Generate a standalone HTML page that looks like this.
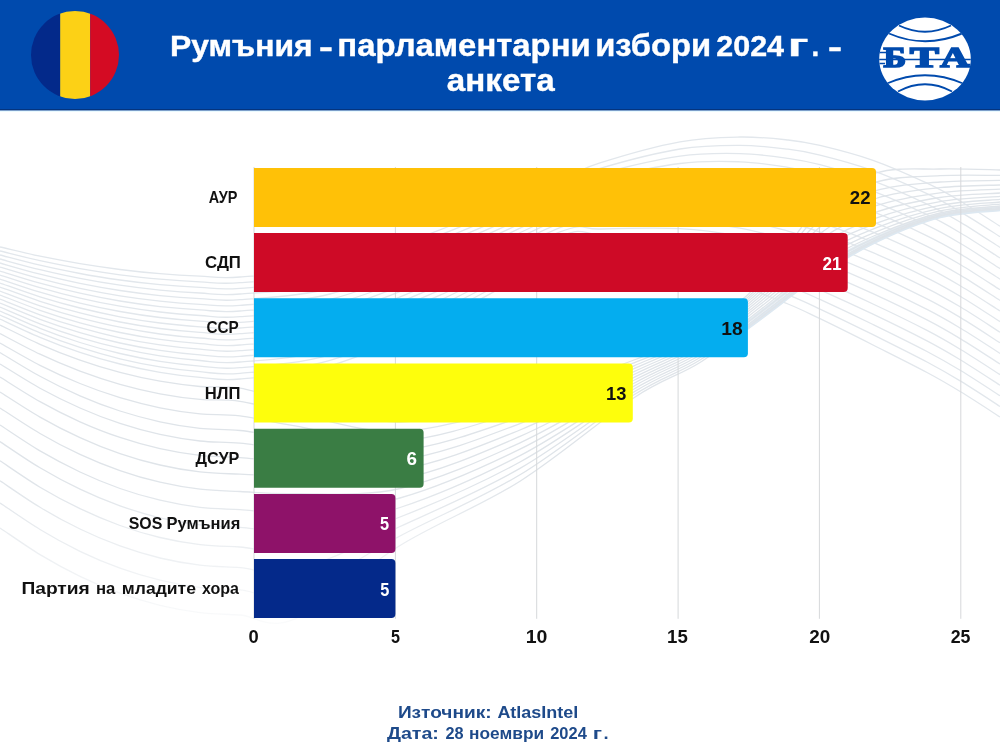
<!DOCTYPE html>
<html lang="bg"><head><meta charset="utf-8"><title>Румъния - парламентарни избори 2024 г. - анкета</title>
<style>html,body{margin:0;padding:0;background:#fff}body{width:1000px;height:750px;overflow:hidden}svg{display:block}</style></head>
<body>
<svg width="1000" height="750" viewBox="0 0 1000 750">
<defs>
<linearGradient id="fadeL" x1="0" x2="1" y1="0" y2="0"><stop offset="0" stop-color="#fff" stop-opacity="0"/><stop offset="0.2" stop-color="#fff" stop-opacity="1"/><stop offset="1" stop-color="#fff" stop-opacity="1"/></linearGradient>
<mask id="mA" maskUnits="userSpaceOnUse" x="540" y="110" width="460" height="500"><rect x="540" y="110" width="460" height="500" fill="url(#fadeL)"/></mask>
<linearGradient id="fadeB" x1="0" x2="0" y1="0" y2="1"><stop offset="0" stop-color="#fff" stop-opacity="1"/><stop offset="0.68" stop-color="#fff" stop-opacity="1"/><stop offset="1" stop-color="#fff" stop-opacity="0"/></linearGradient>
<mask id="mL" maskUnits="userSpaceOnUse" x="0" y="110" width="1000" height="540"><rect x="0" y="110" width="1000" height="540" fill="url(#fadeB)"/></mask>
<clipPath id="bandc"><rect x="745" y="110" width="255" height="300"/></clipPath>
<clipPath id="flag"><circle cx="75" cy="55" r="44"/></clipPath>
<clipPath id="bta"><ellipse cx="925" cy="59" rx="45.8" ry="41.4"/></clipPath>
</defs>
<rect width="1000" height="750" fill="#fff"/>
<g fill="none" stroke="#e2e7ec" stroke-width="1.3" mask="url(#mL)">
<path d="M0.0 247.0C6.7 248.5 26.7 253.4 40.0 256.2C53.3 258.9 66.7 261.4 80.0 263.7C93.3 265.9 106.7 267.8 120.0 269.5C133.3 271.2 146.7 272.6 160.0 273.7C173.3 274.8 186.7 275.6 200.0 276.2C213.3 276.7 218.3 278.6 240.0 277.0C261.7 275.4 296.7 274.3 330.0 266.4C363.3 258.5 401.7 244.3 440.0 229.8C478.3 215.4 533.3 190.9 560.0 179.8C586.7 168.6 580.0 169.2 600.0 162.9C620.0 156.5 656.7 146.1 680.0 141.8C703.3 137.4 722.0 137.3 740.0 137.0C758.0 136.7 774.7 138.6 788.0 140.0C801.3 141.4 805.8 142.1 820.0 145.4C834.2 148.8 855.2 154.1 873.0 160.3C890.8 166.6 912.3 176.3 927.0 183.2C941.7 190.0 948.8 194.3 961.0 201.5C973.2 208.6 993.5 222.1 1000.0 226.2"/>
<path d="M0.0 251.0C6.7 252.6 26.7 257.7 40.0 260.7C53.3 263.6 66.7 266.2 80.0 268.6C93.3 270.9 106.7 273.0 120.0 274.8C133.3 276.5 146.7 278.0 160.0 279.1C173.3 280.3 186.7 281.2 200.0 281.8C213.3 282.4 218.3 284.3 240.0 282.7C261.7 281.0 296.7 279.9 330.0 271.9C363.3 264.0 401.7 249.5 440.0 234.9C478.3 220.2 533.3 195.2 560.0 184.1C586.7 173.0 580.0 174.2 600.0 168.4C620.0 162.5 656.7 152.8 680.0 149.0C703.3 145.1 722.0 145.3 740.0 145.3C758.0 145.3 774.7 147.5 788.0 149.2C801.3 150.8 805.8 151.5 820.0 155.1C834.2 158.6 855.2 164.2 873.0 170.6C890.8 177.0 912.3 186.8 927.0 193.7C941.7 200.6 948.8 204.9 961.0 212.1C973.2 219.2 993.5 232.7 1000.0 236.8"/>
<path d="M0.0 255.0C6.7 256.7 26.7 262.1 40.0 265.2C53.3 268.3 66.7 271.0 80.0 273.5C93.3 276.0 106.7 278.1 120.0 280.0C133.3 281.9 146.7 283.4 160.0 284.6C173.3 285.9 186.7 286.8 200.0 287.4C213.3 288.0 218.3 290.0 240.0 288.3C261.7 286.7 296.7 285.5 330.0 277.4C363.3 269.4 401.7 254.7 440.0 239.9C478.3 225.1 533.3 199.5 560.0 188.5C586.7 177.5 580.0 179.3 600.0 173.9C620.0 168.5 656.7 159.6 680.0 156.2C703.3 152.8 722.0 153.2 740.0 153.6C758.0 153.9 774.7 156.4 788.0 158.3C801.3 160.1 805.8 160.9 820.0 164.7C834.2 168.5 855.2 174.3 873.0 180.9C890.8 187.4 912.3 197.2 927.0 204.2C941.7 211.2 948.8 215.4 961.0 222.6C973.2 229.8 993.5 243.3 1000.0 247.4"/>
<path d="M0.0 259.0C6.7 260.8 26.7 266.5 40.0 269.7C53.3 272.9 66.7 275.9 80.0 278.4C93.3 281.0 106.7 283.3 120.0 285.2C133.3 287.2 146.7 288.8 160.0 290.1C173.3 291.4 186.7 292.4 200.0 293.0C213.3 293.7 218.3 295.7 240.0 294.0C261.7 292.3 296.7 291.1 330.0 283.0C363.3 274.8 401.7 259.9 440.0 244.9C478.3 229.9 533.3 203.7 560.0 192.8C586.7 181.9 580.0 184.3 600.0 179.4C620.0 174.5 656.7 166.4 680.0 163.5C703.3 160.5 722.0 161.2 740.0 161.8C758.0 162.5 774.7 165.3 788.0 167.4C801.3 169.4 805.8 170.4 820.0 174.3C834.2 178.3 855.2 184.4 873.0 191.1C890.8 197.9 912.3 207.7 927.0 214.7C941.7 221.7 948.8 226.0 961.0 233.2C973.2 240.4 993.5 253.9 1000.0 258.0"/>
<path d="M0.0 263.0C6.7 264.9 26.7 270.8 40.0 274.2C53.3 277.6 66.7 280.7 80.0 283.4C93.3 286.1 106.7 288.5 120.0 290.5C133.3 292.5 146.7 294.2 160.0 295.6C173.3 297.0 186.7 298.0 200.0 298.6C213.3 299.3 218.3 301.4 240.0 299.7C261.7 298.0 296.7 296.8 330.0 288.5C363.3 280.2 401.7 265.2 440.0 249.9C478.3 234.7 533.3 208.0 560.0 197.2C586.7 186.3 580.0 189.3 600.0 184.9C620.0 180.5 656.7 173.2 680.0 170.7C703.3 168.2 722.0 169.1 740.0 170.1C758.0 171.1 774.7 174.2 788.0 176.5C801.3 178.8 805.8 179.8 820.0 183.9C834.2 188.1 855.2 194.5 873.0 201.4C890.8 208.3 912.3 218.2 927.0 225.2C941.7 232.3 948.8 236.6 961.0 243.8C973.2 251.0 993.5 264.5 1000.0 268.6"/>
<path d="M0.0 267.0C6.7 269.0 26.7 275.2 40.0 278.7C53.3 282.3 66.7 285.5 80.0 288.3C93.3 291.1 106.7 293.6 120.0 295.8C133.3 297.9 146.7 299.7 160.0 301.1C173.3 302.5 186.7 303.6 200.0 304.3C213.3 305.0 218.3 307.0 240.0 305.3C261.7 303.6 296.7 302.4 330.0 294.0C363.3 285.6 401.7 270.4 440.0 255.0C478.3 239.6 533.3 212.3 560.0 201.5C586.7 190.7 580.0 194.3 600.0 190.4C620.0 186.5 656.7 179.9 680.0 177.9C703.3 175.9 722.0 177.1 740.0 178.4C758.0 179.7 774.7 183.1 788.0 185.6C801.3 188.1 805.8 189.2 820.0 193.6C834.2 197.9 855.2 204.6 873.0 211.6C890.8 218.7 912.3 228.6 927.0 235.8C941.7 242.9 948.8 247.2 961.0 254.4C973.2 261.6 993.5 275.1 1000.0 279.2"/>
<path d="M0.0 271.0C6.7 273.0 26.7 279.5 40.0 283.2C53.3 286.9 66.7 290.3 80.0 293.2C93.3 296.2 106.7 298.8 120.0 301.0C133.3 303.2 146.7 305.1 160.0 306.6C173.3 308.0 186.7 309.1 200.0 309.9C213.3 310.6 218.3 312.7 240.0 311.0C261.7 309.3 296.7 308.0 330.0 299.5C363.3 291.0 401.7 275.6 440.0 260.0C478.3 244.4 533.3 216.5 560.0 205.8C586.7 195.2 580.0 199.4 600.0 195.9C620.0 192.5 656.7 186.7 680.0 185.2C703.3 183.6 722.0 185.1 740.0 186.7C758.0 188.3 774.7 191.9 788.0 194.7C801.3 197.4 805.8 198.7 820.0 203.2C834.2 207.7 855.2 214.7 873.0 221.9C890.8 229.1 912.3 239.1 927.0 246.3C941.7 253.5 948.8 257.7 961.0 265.0C973.2 272.2 993.5 285.7 1000.0 289.8"/>
<path d="M0.0 275.0C6.7 277.1 26.7 283.9 40.0 287.7C53.3 291.6 66.7 295.1 80.0 298.1C93.3 301.2 106.7 303.9 120.0 306.2C133.3 308.6 146.7 310.5 160.0 312.0C173.3 313.6 186.7 314.7 200.0 315.5C213.3 316.3 218.3 318.4 240.0 316.7C261.7 314.9 296.7 313.7 330.0 305.1C363.3 296.5 401.7 280.8 440.0 265.0C478.3 249.2 533.3 220.8 560.0 210.2C586.7 199.6 580.0 204.4 600.0 201.4C620.0 198.5 656.7 193.5 680.0 192.4C703.3 191.3 722.0 193.0 740.0 194.9C758.0 196.8 774.7 200.8 788.0 203.8C801.3 206.8 805.8 208.1 820.0 212.8C834.2 217.5 855.2 224.8 873.0 232.2C890.8 239.5 912.3 249.6 927.0 256.8C941.7 264.0 948.8 268.3 961.0 275.6C973.2 282.8 993.5 296.3 1000.0 300.4"/>
<path d="M0.0 279.0C6.7 281.2 26.7 288.2 40.0 292.2C53.3 296.3 66.7 299.9 80.0 303.1C93.3 306.3 106.7 309.1 120.0 311.5C133.3 313.9 146.7 315.9 160.0 317.5C173.3 319.1 186.7 320.3 200.0 321.1C213.3 321.9 218.3 324.1 240.0 322.3C261.7 320.6 296.7 319.3 330.0 310.6C363.3 301.9 401.7 286.1 440.0 270.1C478.3 254.0 533.3 225.1 560.0 214.5C586.7 204.0 580.0 209.4 600.0 206.9C620.0 204.4 656.7 200.3 680.0 199.6C703.3 199.0 722.0 201.0 740.0 203.2C758.0 205.4 774.7 209.7 788.0 212.9C801.3 216.1 805.8 217.5 820.0 222.4C834.2 227.4 855.2 234.9 873.0 242.4C890.8 249.9 912.3 260.0 927.0 267.3C941.7 274.6 948.8 278.9 961.0 286.2C973.2 293.4 993.5 306.9 1000.0 311.0"/>
<path d="M0.0 283.0C6.7 285.3 26.7 292.6 40.0 296.8C53.3 300.9 66.7 304.7 80.0 308.0C93.3 311.3 106.7 314.2 120.0 316.8C133.3 319.2 146.7 321.3 160.0 323.0C173.3 324.7 186.7 325.9 200.0 326.8C213.3 327.6 218.3 329.8 240.0 328.0C261.7 326.2 296.7 324.9 330.0 316.1C363.3 307.3 401.7 291.3 440.0 275.1C478.3 258.9 533.3 229.3 560.0 218.9C586.7 208.4 580.0 214.4 600.0 212.4C620.0 210.4 656.7 207.0 680.0 206.9C703.3 206.7 722.0 209.0 740.0 211.5C758.0 214.0 774.7 218.6 788.0 222.0C801.3 225.4 805.8 227.0 820.0 232.1C834.2 237.2 855.2 245.0 873.0 252.7C890.8 260.3 912.3 270.5 927.0 277.8C941.7 285.2 948.8 289.4 961.0 296.7C973.2 304.0 993.5 317.5 1000.0 321.6"/>
<path d="M0.0 287.0C6.7 289.4 26.7 296.9 40.0 301.3C53.3 305.6 66.7 309.5 80.0 312.9C93.3 316.4 106.7 319.4 120.0 322.0C133.3 324.6 146.7 326.8 160.0 328.5C173.3 330.2 186.7 331.5 200.0 332.4C213.3 333.2 218.3 335.5 240.0 333.7C261.7 331.9 296.7 330.6 330.0 321.6C363.3 312.7 401.7 296.5 440.0 280.1C478.3 263.7 533.3 233.6 560.0 223.2C586.7 212.9 580.0 219.5 600.0 217.9C620.0 216.4 656.7 213.8 680.0 214.1C703.3 214.4 722.0 216.9 740.0 219.8C758.0 222.6 774.7 227.5 788.0 231.1C801.3 234.8 805.8 236.4 820.0 241.7C834.2 247.0 855.2 255.2 873.0 262.9C890.8 270.7 912.3 281.0 927.0 288.3C941.7 295.7 948.8 300.0 961.0 307.3C973.2 314.6 993.5 328.1 1000.0 332.2"/>
<path d="M0.0 291.0C6.7 293.5 26.7 301.3 40.0 305.8C53.3 310.2 66.7 314.3 80.0 317.9C93.3 321.4 106.7 324.6 120.0 327.2C133.3 329.9 146.7 332.2 160.0 334.0C173.3 335.8 186.7 337.1 200.0 338.0C213.3 338.9 218.3 341.1 240.0 339.3C261.7 337.5 296.7 336.2 330.0 327.2C363.3 318.1 401.7 301.7 440.0 285.1C478.3 268.5 533.3 237.9 560.0 227.6C586.7 217.3 580.0 224.5 600.0 223.5C620.0 222.4 656.7 220.6 680.0 221.3C703.3 222.1 722.0 224.9 740.0 228.1C758.0 231.2 774.7 236.4 788.0 240.2C801.3 244.1 805.8 245.8 820.0 251.3C834.2 256.8 855.2 265.3 873.0 273.2C890.8 281.1 912.3 291.4 927.0 298.9C941.7 306.3 948.8 310.6 961.0 317.9C973.2 325.2 993.5 338.7 1000.0 342.8"/>
<path d="M0.0 295.0C6.7 297.5 26.7 305.6 40.0 310.3C53.3 314.9 66.7 319.1 80.0 322.8C93.3 326.5 106.7 329.7 120.0 332.5C133.3 335.3 146.7 337.6 160.0 339.4C173.3 341.3 186.7 342.7 200.0 343.6C213.3 344.5 218.3 346.8 240.0 345.0C261.7 343.2 296.7 341.8 330.0 332.7C363.3 323.5 401.7 306.9 440.0 290.2C478.3 273.4 533.3 242.1 560.0 231.9C586.7 221.7 580.0 229.5 600.0 229.0C620.0 228.4 656.7 227.4 680.0 228.6C703.3 229.8 722.0 232.9 740.0 236.3C758.0 239.8 774.7 245.2 788.0 249.3C801.3 253.4 805.8 255.3 820.0 260.9C834.2 266.6 855.2 275.4 873.0 283.4C890.8 291.5 912.3 301.9 927.0 309.4C941.7 316.9 948.8 321.2 961.0 328.5C973.2 335.8 993.5 349.3 1000.0 353.4"/>
<path d="M0.0 299.0C6.7 301.6 26.7 310.0 40.0 314.8C53.3 319.6 66.7 323.9 80.0 327.7C93.3 331.5 106.7 334.9 120.0 337.8C133.3 340.6 146.7 343.0 160.0 344.9C173.3 346.8 186.7 348.3 200.0 349.2C213.3 350.2 218.3 352.5 240.0 350.7C261.7 348.8 296.7 347.4 330.0 338.2C363.3 329.0 401.7 312.2 440.0 295.2C478.3 278.2 533.3 246.4 560.0 236.3C586.7 226.1 580.0 234.5 600.0 234.5C620.0 234.4 656.7 234.1 680.0 235.8C703.3 237.5 722.0 240.8 740.0 244.6C758.0 248.4 774.7 254.1 788.0 258.5C801.3 262.8 805.8 264.7 820.0 270.6C834.2 276.4 855.2 285.5 873.0 293.7C890.8 301.9 912.3 312.3 927.0 319.9C941.7 327.5 948.8 331.7 961.0 339.1C973.2 346.4 993.5 359.9 1000.0 364.0"/>
<path d="M0.0 303.0C6.7 305.7 26.7 314.4 40.0 319.3C53.3 324.2 66.7 328.7 80.0 332.6C93.3 336.6 106.7 340.0 120.0 343.0C133.3 346.0 146.7 348.4 160.0 350.4C173.3 352.4 186.7 353.9 200.0 354.9C213.3 355.8 218.3 358.2 240.0 356.3C261.7 354.5 296.7 353.1 330.0 343.7C363.3 334.4 401.7 317.4 440.0 300.2C478.3 283.0 533.3 250.7 560.0 240.6C586.7 230.6 580.0 239.6 600.0 240.0C620.0 240.4 656.7 240.9 680.0 243.1C703.3 245.2 722.0 248.8 740.0 252.9C758.0 257.0 774.7 263.0 788.0 267.6C801.3 272.1 805.8 274.1 820.0 280.2C834.2 286.3 855.2 295.6 873.0 304.0C890.8 312.3 912.3 322.8 927.0 330.4C941.7 338.0 948.8 342.3 961.0 349.7C973.2 357.0 993.5 370.4 1000.0 374.6"/>
<path d="M0.0 307.0C6.7 309.8 26.7 318.7 40.0 323.8C53.3 328.9 66.7 333.5 80.0 337.6C93.3 341.6 106.7 345.2 120.0 348.2C133.3 351.3 146.7 353.9 160.0 355.9C173.3 357.9 186.7 359.5 200.0 360.5C213.3 361.5 218.3 363.9 240.0 362.0C261.7 360.1 296.7 358.7 330.0 349.2C363.3 339.8 401.7 322.6 440.0 305.2C478.3 287.9 533.3 254.9 560.0 245.0C586.7 235.0 580.0 244.6 600.0 245.5C620.0 246.4 656.7 247.7 680.0 250.3C703.3 252.9 722.0 256.8 740.0 261.2C758.0 265.6 774.7 271.9 788.0 276.7C801.3 281.4 805.8 283.6 820.0 289.8C834.2 296.1 855.2 305.7 873.0 314.2C890.8 322.7 912.3 333.3 927.0 340.9C941.7 348.6 948.8 352.9 961.0 360.2C973.2 367.6 993.5 381.0 1000.0 385.2"/>
<path d="M0.0 311.0C6.7 313.9 26.7 323.1 40.0 328.3C53.3 333.6 66.7 338.3 80.0 342.5C93.3 346.7 106.7 350.4 120.0 353.5C133.3 356.6 146.7 359.3 160.0 361.4C173.3 363.5 186.7 365.0 200.0 366.1C213.3 367.1 218.3 369.6 240.0 367.7C261.7 365.8 296.7 364.3 330.0 354.8C363.3 345.2 401.7 327.8 440.0 310.3C478.3 292.7 533.3 259.2 560.0 249.3C586.7 239.4 580.0 249.6 600.0 251.0C620.0 252.4 656.7 254.5 680.0 257.5C703.3 260.6 722.0 264.7 740.0 269.4C758.0 274.2 774.7 280.8 788.0 285.8C801.3 290.8 805.8 293.0 820.0 299.4C834.2 305.9 855.2 315.8 873.0 324.5C890.8 333.2 912.3 343.7 927.0 351.5C941.7 359.2 948.8 363.4 961.0 370.8C973.2 378.2 993.5 391.6 1000.0 395.8"/>
<path d="M0.0 315.0C6.7 318.0 26.7 327.4 40.0 332.8C53.3 338.2 66.7 343.1 80.0 347.4C93.3 351.7 106.7 355.5 120.0 358.8C133.3 362.0 146.7 364.7 160.0 366.9C173.3 369.0 186.7 370.6 200.0 371.7C213.3 372.8 218.3 375.2 240.0 373.3C261.7 371.4 296.7 370.0 330.0 360.3C363.3 350.6 401.7 333.1 440.0 315.3C478.3 297.5 533.3 263.5 560.0 253.7C586.7 243.9 580.0 254.6 600.0 256.5C620.0 258.3 656.7 261.2 680.0 264.8C703.3 268.3 722.0 272.7 740.0 277.7C758.0 282.7 774.7 289.7 788.0 294.9C801.3 300.1 805.8 302.4 820.0 309.1C834.2 315.7 855.2 325.9 873.0 334.7C890.8 343.6 912.3 354.2 927.0 362.0C941.7 369.8 948.8 374.0 961.0 381.4C973.2 388.8 993.5 402.2 1000.0 406.4"/>
<path d="M0.0 319.0C6.7 322.1 26.7 331.8 40.0 337.3C53.3 342.9 66.7 347.9 80.0 352.3C93.3 356.8 106.7 360.7 120.0 364.0C133.3 367.3 146.7 370.1 160.0 372.3C173.3 374.6 186.7 376.2 200.0 377.3C213.3 378.4 218.3 380.9 240.0 379.0C261.7 377.1 296.7 375.6 330.0 365.8C363.3 356.0 401.7 338.3 440.0 320.3C478.3 302.3 533.3 267.7 560.0 258.0C586.7 248.3 580.0 259.7 600.0 262.0C620.0 264.3 656.7 268.0 680.0 272.0C703.3 276.0 722.0 280.7 740.0 286.0C758.0 291.3 774.7 298.6 788.0 304.0C801.3 309.4 805.8 311.9 820.0 318.7C834.2 325.5 855.2 336.0 873.0 345.0C890.8 354.0 912.3 364.7 927.0 372.5C941.7 380.3 948.8 384.6 961.0 392.0C973.2 399.4 993.5 412.8 1000.0 417.0"/>
</g>
<path d="M700.0 362.5C710.0 355.1 740.0 332.9 760.0 318.1C780.0 303.3 800.7 286.4 820.0 273.5C839.3 260.6 856.0 250.3 876.0 240.7C896.0 231.2 919.3 221.3 940.0 216.1C960.7 210.8 990.0 210.2 1000.0 209.0" fill="none" stroke="#dde8f1" stroke-width="4.5" clip-path="url(#bandc)"/>
<path d="M700.0 357.5C710.0 350.0 740.0 327.7 760.0 312.7C780.0 297.7 800.7 280.1 820.0 267.6C839.3 255.1 856.0 246.4 876.0 237.6C896.0 228.7 919.3 219.6 940.0 214.5C960.7 209.5 990.0 208.6 1000.0 207.4" fill="none" stroke="#e3ecf3" stroke-width="3" clip-path="url(#bandc)"/>
<g fill="none" stroke="#dfe4e9" stroke-width="1.3" mask="url(#mL)">
<path d="M0.0 325.0C6.7 328.2 26.7 338.5 40.0 344.3C53.3 350.2 66.7 355.4 80.0 360.1C93.3 364.8 106.7 368.9 120.0 372.4C133.3 375.9 146.7 378.9 160.0 381.2C173.3 383.5 186.7 385.3 200.0 386.5C213.3 387.6 224.2 385.7 240.0 388.2C255.8 390.8 268.3 396.1 295.0 401.7C321.7 407.4 362.5 422.6 400.0 422.0C437.5 421.4 481.0 408.3 520.0 398.0C559.0 387.7 604.0 371.3 634.0 360.0C664.0 348.7 679.0 342.8 700.0 330.0C721.0 317.2 740.0 303.8 760.0 283.0C780.0 262.2 800.7 223.3 820.0 205.0C839.3 186.7 856.0 179.0 876.0 173.0C896.0 167.0 919.3 169.5 940.0 169.0C960.7 168.5 990.0 169.8 1000.0 170.0"/>
<path d="M0.0 333.5C6.7 337.0 26.7 347.9 40.0 354.2C53.3 360.5 66.7 366.1 80.0 371.2C93.3 376.2 106.7 380.6 120.0 384.3C133.3 388.1 146.7 391.2 160.0 393.8C173.3 396.3 186.7 398.2 200.0 399.4C213.3 400.7 224.2 399.0 240.0 401.3C255.8 403.6 268.3 408.3 295.0 413.4C321.7 418.4 362.5 433.0 400.0 431.5C437.5 430.0 481.0 415.8 520.0 404.4C559.0 393.0 604.0 374.9 634.0 362.9C664.0 350.9 679.0 345.4 700.0 332.5C721.0 319.6 740.0 305.7 760.0 285.7C780.0 265.7 800.7 230.0 820.0 212.8C839.3 195.5 856.0 188.3 876.0 182.2C896.0 176.0 919.3 176.9 940.0 175.7C960.7 174.6 990.0 175.5 1000.0 175.4"/>
<path d="M0.0 343.0C6.7 346.7 26.7 358.5 40.0 365.3C53.3 372.0 66.7 378.1 80.0 383.5C93.3 388.9 106.7 393.6 120.0 397.7C133.3 401.7 146.7 405.1 160.0 407.8C173.3 410.5 186.7 412.5 200.0 413.9C213.3 415.2 224.2 413.9 240.0 415.9C255.8 417.9 268.3 421.8 295.0 425.9C321.7 430.1 362.5 443.5 400.0 441.0C437.5 438.5 481.0 423.3 520.0 410.8C559.0 398.3 604.0 378.4 634.0 365.8C664.0 353.2 679.0 347.9 700.0 335.0C721.0 322.1 740.0 307.5 760.0 288.4C780.0 269.3 800.7 236.4 820.0 220.2C839.3 203.9 856.0 197.0 876.0 190.7C896.0 184.3 919.3 183.7 940.0 182.0C960.7 180.2 990.0 180.7 1000.0 180.4"/>
<path d="M0.0 352.5C6.7 356.5 26.7 369.1 40.0 376.3C53.3 383.6 66.7 390.1 80.0 395.8C93.3 401.6 106.7 406.7 120.0 411.0C133.3 415.3 146.7 418.9 160.0 421.8C173.3 424.7 186.7 426.9 200.0 428.3C213.3 429.8 224.2 428.8 240.0 430.5C255.8 432.2 268.3 435.2 295.0 438.5C321.7 441.8 362.5 454.1 400.0 450.5C437.5 446.9 481.0 430.8 520.0 417.2C559.0 403.6 604.0 382.0 634.0 368.7C664.0 355.4 679.0 350.4 700.0 337.5C721.0 324.6 740.0 309.5 760.0 291.1C780.0 272.7 800.7 242.5 820.0 227.1C839.3 211.7 856.0 205.1 876.0 198.5C896.0 192.0 919.3 189.9 940.0 187.7C960.7 185.4 990.0 185.4 1000.0 185.0"/>
<path d="M0.0 364.0C6.7 368.0 26.7 380.9 40.0 388.2C53.3 395.5 66.7 402.1 80.0 408.0C93.3 413.9 106.7 419.0 120.0 423.4C133.3 427.8 146.7 431.5 160.0 434.4C173.3 437.3 186.7 439.5 200.0 441.0C213.3 442.5 224.2 441.7 240.0 443.2C255.8 444.7 268.3 447.1 295.0 449.9C321.7 452.7 362.5 464.4 400.0 460.0C437.5 455.6 481.0 438.3 520.0 423.6C559.0 408.9 604.0 385.5 634.0 371.6C664.0 357.7 679.0 353.0 700.0 340.0C721.0 327.0 740.0 311.5 760.0 293.8C780.0 276.1 800.7 248.3 820.0 233.6C839.3 219.0 856.0 212.5 876.0 205.7C896.0 198.9 919.3 195.6 940.0 192.8C960.7 190.1 990.0 189.8 1000.0 189.2"/>
<path d="M0.0 377.0C6.7 381.1 26.7 394.2 40.0 401.6C53.3 409.1 66.7 415.8 80.0 421.8C93.3 427.7 106.7 433.0 120.0 437.4C133.3 441.9 146.7 445.6 160.0 448.6C173.3 451.6 186.7 453.8 200.0 455.3C213.3 456.8 224.2 456.4 240.0 457.6C255.8 458.7 268.3 460.4 295.0 462.3C321.7 464.3 362.5 474.9 400.0 469.5C437.5 464.1 481.0 445.8 520.0 430.0C559.0 414.2 604.0 389.1 634.0 374.5C664.0 359.9 679.0 355.5 700.0 342.5C721.0 329.5 740.0 313.6 760.0 296.5C780.0 279.4 800.7 253.8 820.0 239.8C839.3 225.7 856.0 219.3 876.0 212.2C896.0 205.2 919.3 200.7 940.0 197.5C960.7 194.3 990.0 193.8 1000.0 193.0"/>
<path d="M0.0 392.0C6.7 396.2 26.7 409.5 40.0 417.1C53.3 424.7 66.7 431.6 80.0 437.6C93.3 443.7 106.7 449.1 120.0 453.6C133.3 458.2 146.7 462.0 160.0 465.0C173.3 468.1 186.7 470.4 200.0 471.9C213.3 473.4 224.2 473.5 240.0 474.2C255.8 474.9 268.3 475.3 295.0 476.1C321.7 476.9 362.5 485.6 400.0 479.0C437.5 472.4 481.0 453.3 520.0 436.4C559.0 419.5 604.0 392.6 634.0 377.4C664.0 362.2 679.0 358.0 700.0 345.0C721.0 332.0 740.0 315.8 760.0 299.2C780.0 282.6 800.7 259.0 820.0 245.4C839.3 231.9 856.0 225.4 876.0 218.1C896.0 210.8 919.3 205.3 940.0 201.6C960.7 198.0 990.0 197.3 1000.0 196.4"/>
<path d="M0.0 408.0C6.7 412.3 26.7 425.8 40.0 433.5C53.3 441.3 66.7 448.2 80.0 454.4C93.3 460.6 106.7 466.0 120.0 470.6C133.3 475.3 146.7 479.1 160.0 482.2C173.3 485.3 186.7 487.7 200.0 489.2C213.3 490.7 224.2 490.8 240.0 491.5C255.8 492.2 268.3 494.1 295.0 493.6C321.7 493.1 362.5 497.0 400.0 488.5C437.5 480.0 481.0 460.8 520.0 442.8C559.0 424.8 604.0 396.2 634.0 380.3C664.0 364.4 679.0 360.6 700.0 347.5C721.0 334.4 740.0 318.0 760.0 301.9C780.0 285.8 800.7 263.8 820.0 250.7C839.3 237.6 856.0 230.9 876.0 223.3C896.0 215.8 919.3 209.2 940.0 205.3C960.7 201.3 990.0 200.4 1000.0 199.4"/>
<path d="M0.0 425.0C6.7 429.3 26.7 443.0 40.0 450.9C53.3 458.7 66.7 465.7 80.0 472.0C93.3 478.3 106.7 483.8 120.0 488.5C133.3 493.2 146.7 497.1 160.0 500.2C173.3 503.4 186.7 505.7 200.0 507.3C213.3 508.8 224.2 508.8 240.0 509.6C255.8 510.4 268.3 513.9 295.0 512.0C321.7 510.0 362.5 508.5 400.0 498.0C437.5 487.5 481.0 468.3 520.0 449.2C559.0 430.1 604.0 399.7 634.0 383.2C664.0 366.7 679.0 363.1 700.0 350.0C721.0 336.9 740.0 320.3 760.0 304.6C780.0 288.9 800.7 268.3 820.0 255.6C839.3 242.8 856.0 235.7 876.0 227.9C896.0 220.0 919.3 212.7 940.0 208.4C960.7 204.0 990.0 203.1 1000.0 202.0"/>
<path d="M0.0 441.6C6.7 446.0 26.7 459.9 40.0 467.8C53.3 475.7 66.7 482.9 80.0 489.2C93.3 495.6 106.7 501.1 120.0 505.9C133.3 510.6 146.7 514.6 160.0 517.8C173.3 521.0 186.7 523.3 200.0 524.9C213.3 526.5 224.2 526.5 240.0 527.3C255.8 528.1 268.3 533.2 295.0 529.9C321.7 526.6 362.5 519.9 400.0 507.5C437.5 495.1 481.0 475.8 520.0 455.6C559.0 435.4 604.0 403.3 634.0 386.1C664.0 368.9 679.0 365.6 700.0 352.5C721.0 339.4 740.0 322.7 760.0 307.3C780.0 291.9 800.7 272.6 820.0 260.0C839.3 247.4 856.0 239.9 876.0 231.8C896.0 223.6 919.3 215.5 940.0 210.9C960.7 206.3 990.0 205.3 1000.0 204.2"/>
<path d="M0.0 460.8C6.7 465.2 26.7 479.2 40.0 487.2C53.3 495.1 66.7 502.3 80.0 508.7C93.3 515.1 106.7 520.7 120.0 525.5C133.3 530.3 146.7 534.3 160.0 537.5C173.3 540.7 186.7 543.0 200.0 544.6C213.3 546.2 224.2 546.2 240.0 547.0C255.8 547.9 268.3 555.0 295.0 550.0C321.7 544.9 362.5 531.7 400.0 517.0C437.5 502.3 481.0 483.3 520.0 462.0C559.0 440.7 604.0 406.8 634.0 389.0C664.0 371.2 679.0 368.2 700.0 355.0C721.0 341.8 740.0 325.2 760.0 310.0C780.0 294.8 800.7 276.5 820.0 264.0C839.3 251.5 856.0 243.5 876.0 235.0C896.0 226.5 919.3 217.8 940.0 213.0C960.7 208.2 990.0 207.2 1000.0 206.0"/>
<path d="M0.0 480.8C6.7 485.2 26.7 499.3 40.0 507.3C53.3 515.4 66.7 522.6 80.0 529.0C93.3 535.5 106.7 541.1 120.0 545.9C133.3 550.7 146.7 554.7 160.0 558.0C173.3 561.2 186.7 563.6 200.0 565.2C213.3 566.8 224.2 566.7 240.0 567.6C255.8 568.5 268.3 577.7 295.0 570.8C321.7 564.0 362.5 543.6 400.0 526.5C437.5 509.4 481.0 490.8 520.0 468.4C559.0 446.0 604.0 410.4 634.0 391.9C664.0 373.4 679.0 370.7 700.0 357.5C721.0 344.3 740.0 327.7 760.0 312.7C780.0 297.7 800.7 280.1 820.0 267.6C839.3 255.1 856.0 246.4 876.0 237.6C896.0 228.7 919.3 219.6 940.0 214.5C960.7 209.5 990.0 208.6 1000.0 207.4"/>
<path d="M0.0 503.0C6.7 507.4 26.7 521.5 40.0 529.5C53.3 537.6 66.7 544.8 80.0 551.3C93.3 557.7 106.7 563.3 120.0 568.2C133.3 573.0 146.7 577.0 160.0 580.2C173.3 583.5 186.7 585.9 200.0 587.5C213.3 589.1 224.2 588.9 240.0 589.9C255.8 590.9 268.3 602.4 295.0 593.4C321.7 584.4 362.5 555.8 400.0 536.0C437.5 516.2 481.0 498.3 520.0 474.8C559.0 451.3 604.0 413.9 634.0 394.8C664.0 375.7 679.0 373.2 700.0 360.0C721.0 346.8 740.0 330.3 760.0 315.4C780.0 300.5 800.7 283.4 820.0 270.8C839.3 258.1 856.0 248.7 876.0 239.5C896.0 230.3 919.3 220.7 940.0 215.6C960.7 210.4 990.0 209.6 1000.0 208.4"/>
<path d="M0.0 528.0C6.7 532.4 26.7 546.5 40.0 554.6C53.3 562.6 66.7 569.9 80.0 576.3C93.3 582.8 106.7 588.4 120.0 593.2C133.3 598.1 146.7 602.1 160.0 605.3C173.3 608.5 186.7 611.0 200.0 612.6C213.3 614.2 224.2 614.0 240.0 615.0C255.8 616.0 268.3 630.4 295.0 618.8C321.7 607.2 362.5 568.4 400.0 545.5C437.5 522.6 481.0 505.8 520.0 481.2C559.0 456.6 604.0 417.5 634.0 397.7C664.0 377.9 679.0 375.8 700.0 362.5C721.0 349.2 740.0 332.9 760.0 318.1C780.0 303.3 800.7 286.4 820.0 273.5C839.3 260.6 856.0 250.3 876.0 240.7C896.0 231.2 919.3 221.3 940.0 216.1C960.7 210.8 990.0 210.2 1000.0 209.0"/>
</g>
<rect width="1000" height="110" fill="#004AAD"/>
<rect y="109" width="1000" height="1" fill="#04347E"/>
<rect y="110" width="1000" height="1" fill="#7D9FCA"/>
<rect y="111" width="1000" height="1" fill="#EAFAFF"/>
<g clip-path="url(#flag)"><rect x="30" y="10" width="30.2" height="90" fill="#03298A"/><rect x="60.2" y="10" width="30" height="90" fill="#FCD116"/><rect x="90.2" y="10" width="30" height="90" fill="#D40B23"/></g>
<ellipse cx="925" cy="59" rx="45.8" ry="41.4" fill="#fff"/>
<g clip-path="url(#bta)" fill="none" stroke="#004AAD" stroke-width="1.9">
<path d="M899 25.5Q925 38 951 25.5"/><path d="M889 33.5Q925 49 962 33.5"/>
<path d="M887 83.5Q925 67 963 83.5"/><path d="M898 91.5Q925 77 952 91.5"/>
<path d="M875 59.5H975M875 52.5H887M875 63.5H885M967 64.5H975" stroke-width="1.3"/>
</g>
<g stroke="#d6d8db" stroke-width="1">
<line x1="254.0" y1="167" x2="254.0" y2="618.8"/>
<line x1="395.4" y1="167" x2="395.4" y2="618.8"/>
<line x1="536.7" y1="167" x2="536.7" y2="618.8"/>
<line x1="678.1" y1="167" x2="678.1" y2="618.8"/>
<line x1="819.4" y1="167" x2="819.4" y2="618.8"/>
<line x1="960.8" y1="167" x2="960.8" y2="618.8"/>
</g>
<path d="M254.0 167.9H872.0Q876.0 167.9 876.0 171.9V222.9Q876.0 226.9 872.0 226.9H254.0Z" fill="#FFC107"/>
<path d="M254.0 233.1H843.7Q847.7 233.1 847.7 237.1V288.1Q847.7 292.1 843.7 292.1H254.0Z" fill="#CE0A26"/>
<path d="M254.0 298.3H743.9Q747.9 298.3 747.9 302.3V353.3Q747.9 357.3 743.9 357.3H254.0Z" fill="#04ADEF"/>
<path d="M254.0 363.5H628.8Q632.8 363.5 632.8 367.5V418.5Q632.8 422.5 628.8 422.5H254.0Z" fill="#FEFE0C"/>
<path d="M254.0 428.7H419.6Q423.6 428.7 423.6 432.7V483.7Q423.6 487.7 419.6 487.7H254.0Z" fill="#3A7D44"/>
<path d="M254.0 493.9H391.4Q395.4 493.9 395.4 497.9V548.9Q395.4 552.9 391.4 552.9H254.0Z" fill="#8E1269"/>
<path d="M254.0 559.1H391.4Q395.4 559.1 395.4 563.1V614.1Q395.4 618.1 391.4 618.1H254.0Z" fill="#04298A"/>
<g font-family="'Liberation Sans', sans-serif" font-weight="bold">
<text fill="#fff" font-size="30.2" stroke="#fff" stroke-width="0.4"><tspan x="169.9" y="55.6" font-size="30.2" textLength="142.7" lengthAdjust="spacingAndGlyphs">Румъния</tspan> <tspan x="318.9" y="56.9" font-size="29.5" textLength="13.9" lengthAdjust="spacingAndGlyphs">-</tspan> <tspan x="337.3" y="55.6" font-size="31.6" textLength="253.4" lengthAdjust="spacingAndGlyphs">парламентарни</tspan> <tspan x="595.2" y="55.6" font-size="31.6" textLength="116.0" lengthAdjust="spacingAndGlyphs">избори</tspan> <tspan x="716.3" y="55.6" font-size="29.2" textLength="67.7" lengthAdjust="spacingAndGlyphs">2024</tspan> <tspan x="787.8" y="55.6" font-size="31.6" textLength="20.8" lengthAdjust="spacingAndGlyphs">г</tspan><tspan x="811.4" y="55.6" font-size="29.5" textLength="7.7" lengthAdjust="spacingAndGlyphs">.</tspan> <tspan x="827.9" y="56.9" font-size="29.5" textLength="14.0" lengthAdjust="spacingAndGlyphs">-</tspan></text>
<text fill="#fff" font-size="31.6" stroke="#fff" stroke-width="0.4"><tspan x="446.8" y="90.5" font-size="31.6" textLength="107.8" lengthAdjust="spacingAndGlyphs">анкета</tspan></text>
<text fill="#111" font-size="17"><tspan x="208.8" y="203.0" font-size="17" textLength="28.5" lengthAdjust="spacingAndGlyphs">АУР</tspan></text>
<text fill="#111" font-size="17"><tspan x="205.0" y="268.2" font-size="17" textLength="35.9" lengthAdjust="spacingAndGlyphs">СДП</tspan></text>
<text fill="#111" font-size="17"><tspan x="206.4" y="333.4" font-size="17" textLength="32.3" lengthAdjust="spacingAndGlyphs">ССР</tspan></text>
<text fill="#111" font-size="17"><tspan x="204.7" y="398.6" font-size="17" textLength="35.7" lengthAdjust="spacingAndGlyphs">НЛП</tspan></text>
<text fill="#111" font-size="17"><tspan x="195.6" y="463.8" font-size="17" textLength="43.8" lengthAdjust="spacingAndGlyphs">ДСУР</tspan></text>
<text fill="#111" font-size="17"><tspan x="128.7" y="529.0" font-size="17" textLength="33.6" lengthAdjust="spacingAndGlyphs">SOS</tspan> <tspan x="166.5" y="529.0" font-size="17" textLength="73.8" lengthAdjust="spacingAndGlyphs">Румъния</tspan></text>
<text fill="#111" font-size="17"><tspan x="21.4" y="594.2" font-size="17" textLength="68.4" lengthAdjust="spacingAndGlyphs">Партия</tspan> <tspan x="95.9" y="594.2" font-size="17" textLength="19.4" lengthAdjust="spacingAndGlyphs">на</tspan> <tspan x="121.8" y="594.2" font-size="17" textLength="74.1" lengthAdjust="spacingAndGlyphs">младите</tspan> <tspan x="202.0" y="594.2" font-size="17" textLength="37.0" lengthAdjust="spacingAndGlyphs">хора</tspan></text>
<text fill="#111" font-size="17.5"><tspan x="849.8" y="204.4" font-size="17.5" textLength="20.7" lengthAdjust="spacingAndGlyphs">22</tspan></text>
<text fill="#fff" font-size="17.5"><tspan x="822.4" y="269.6" font-size="17.5" textLength="19.1" lengthAdjust="spacingAndGlyphs">21</tspan></text>
<text fill="#111" font-size="17.5"><tspan x="721.2" y="334.8" font-size="17.5" textLength="21.4" lengthAdjust="spacingAndGlyphs">18</tspan></text>
<text fill="#111" font-size="17.5"><tspan x="606.1" y="400.0" font-size="17.5" textLength="20.4" lengthAdjust="spacingAndGlyphs">13</tspan></text>
<text fill="#fff" font-size="17.5"><tspan x="406.6" y="465.2" font-size="17.5" textLength="10.5" lengthAdjust="spacingAndGlyphs">6</tspan></text>
<text fill="#fff" font-size="17.5"><tspan x="380.0" y="530.4" font-size="17.5" textLength="9.1" lengthAdjust="spacingAndGlyphs">5</tspan></text>
<text fill="#fff" font-size="17.5"><tspan x="380.2" y="595.6" font-size="17.5" textLength="9.1" lengthAdjust="spacingAndGlyphs">5</tspan></text>
<text fill="#111" font-size="17.5"><tspan x="248.6" y="643.3" font-size="17.5" textLength="10.2" lengthAdjust="spacingAndGlyphs">0</tspan> <tspan x="391.0" y="643.3" font-size="17.5" textLength="9.0" lengthAdjust="spacingAndGlyphs">5</tspan> <tspan x="525.7" y="643.3" font-size="17.5" textLength="21.7" lengthAdjust="spacingAndGlyphs">10</tspan> <tspan x="667.1" y="643.3" font-size="17.5" textLength="20.7" lengthAdjust="spacingAndGlyphs">15</tspan> <tspan x="809.2" y="643.3" font-size="17.5" textLength="21.0" lengthAdjust="spacingAndGlyphs">20</tspan> <tspan x="950.7" y="643.3" font-size="17.5" textLength="19.8" lengthAdjust="spacingAndGlyphs">25</tspan></text>
<text fill="#1E4A8A" font-size="16.5"><tspan x="397.9" y="717.8" font-size="16.5" textLength="93.7" lengthAdjust="spacingAndGlyphs">Източник:</tspan> <tspan x="497.4" y="717.8" font-size="16.5" textLength="80.9" lengthAdjust="spacingAndGlyphs">AtlasIntel</tspan></text>
<text fill="#1E4A8A" font-size="16.5"><tspan x="386.9" y="738.6" font-size="16.5" textLength="52.0" lengthAdjust="spacingAndGlyphs">Дата:</tspan> <tspan x="445.4" y="738.6" font-size="16.5" textLength="18.1" lengthAdjust="spacingAndGlyphs">28</tspan> <tspan x="469.1" y="738.6" font-size="16.5" textLength="75.0" lengthAdjust="spacingAndGlyphs">ноември</tspan> <tspan x="550.2" y="738.6" font-size="16.5" textLength="36.6" lengthAdjust="spacingAndGlyphs">2024</tspan> <tspan x="592.8" y="738.6" font-size="16.5" textLength="9.3" lengthAdjust="spacingAndGlyphs">г</tspan><tspan x="603.5" y="738.6" font-size="16.5" textLength="5.1" lengthAdjust="spacingAndGlyphs">.</tspan></text>
</g>
<g font-family="'Liberation Serif', serif" font-weight="bold" stroke="#004AAD" stroke-width="1.7" stroke-linejoin="miter">
<text font-size="28.5" fill="#004AAD"><tspan x="883.6" y="67.3" textLength="22.6" lengthAdjust="spacingAndGlyphs">Б</tspan><tspan x="910.0" y="67.3" textLength="28.8" lengthAdjust="spacingAndGlyphs">Т</tspan><tspan x="940.2" y="67.3" textLength="29.2" lengthAdjust="spacingAndGlyphs">А</tspan></text>
</g>
</svg>
</body></html>
